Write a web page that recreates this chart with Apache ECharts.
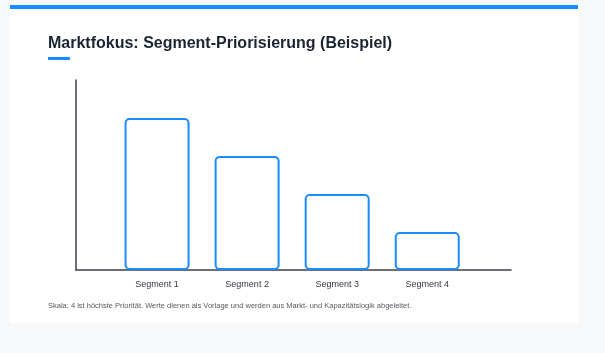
<!DOCTYPE html>
<html>
<head>
    <meta charset="utf-8">
    <title>Marktfokus</title>
    <script src="https://cdn.jsdelivr.net/npm/echarts@6/dist/echarts.min.js"></script>
    <style>
        html, body { margin: 0; padding: 0; background: #f7f8f9; }
        #chart1 { width: 605px; height: 353px; }
    </style>
</head>
<body>
<div id="chart1"></div>
<script type="text/javascript">
    // Daten
    var categories = ['Segment 1', 'Segment 2', 'Segment 3', 'Segment 4'];
    var priority = [4, 3, 2, 1];
    var titleText = 'Marktfokus: Segment-Priorisierung (Beispiel)';
    var noteText = 'Skala: 4 ist höchste Priorität. Werte dienen als Vorlage und werden aus Markt- und Kapazitätslogik abgeleitet.';

    var blue = '#1a8cff';
    var axisColor = '#3d424a';

    // Balken liegen auf einer Werteachse (Position 1..n), damit der Abstand stimmt
    var barData = categories.map(function (c, i) {
        return [i + 1, priority[i]];
    });
    var labelPositions = categories.map(function (c, i) { return i + 1; });

    var myChart1 = echarts.init(document.getElementById('chart1'));
    myChart1.setOption({
        animation: false,
        backgroundColor: '#f7f8f9',
        title: {
            text: titleText,
            left: 48,
            top: 36,
            padding: 0,
            textStyle: {
                fontFamily: 'Liberation Sans, Arial, sans-serif',
                fontSize: 16,
                fontWeight: 'bold',
                color: '#1b2433'
            }
        },
        graphic: [
            // Karte
            { type: 'rect', z: -10, shape: { x: 10, y: 5, width: 568, height: 318 }, style: { fill: '#ffffff' } },
            { type: 'rect', z: -9, shape: { x: 10, y: 5, width: 568, height: 4 }, style: { fill: blue } },
            { type: 'rect', z: -9, shape: { x: 48, y: 57, width: 22, height: 3 }, style: { fill: blue } },
            {
                type: 'text', left: 48, top: 302,
                style: {
                    text: noteText,
                    fill: '#555a60',
                    font: '7.5px "Liberation Sans", Arial, sans-serif'
                }
            }
        ],
        grid: { left: 76, right: 94, top: 80, bottom: 83 },
        xAxis: {
            type: 'value',
            min: 0.1,
            max: 4.93,
            splitLine: { show: false },
            axisTick: { show: false },
            axisLine: { show: true, lineStyle: { color: axisColor, width: 1.5 } },
            axisLabel: {
                customValues: labelPositions,
                margin: 10,
                fontFamily: 'Liberation Sans, Arial, sans-serif',
                fontSize: 9,
                color: '#333840',
                formatter: function (v) {
                    return categories[Math.round(v) - 1] || '';
                }
            }
        },
        yAxis: {
            type: 'value',
            min: 0,
            max: 5,
            splitLine: { show: false },
            axisTick: { show: false },
            axisLabel: { show: false },
            axisLine: { show: true, lineStyle: { color: axisColor, width: 1.5 } }
        },
        series: [{
            name: 'Priorität',
            type: 'bar',
            barWidth: 65,
            data: barData,
            itemStyle: {
                color: '#ffffff',
                borderColor: blue,
                borderWidth: 2,
                borderRadius: 4
            }
        }]
    });
</script>
</body>
</html>
